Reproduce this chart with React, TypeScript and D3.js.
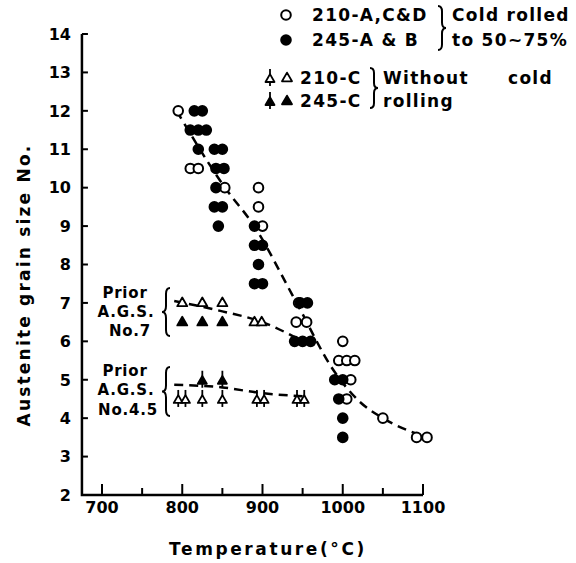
import React from "react";
import * as d3 from "d3";

// Cold rolled, 210-A,C&D (open circles): [temperature °C, grain size No.]
const coldOpen: [number, number][] = [
  [795, 12], [810, 10.5], [820, 10.5], [853, 10], [895, 10], [895, 9.5],
  [900, 9], [945, 7], [942, 6.5], [955, 6.5], [1000, 6], [995, 5.5],
  [1005, 5.5], [1015, 5.5], [1010, 5], [1005, 4.5], [1050, 4],
  [1092, 3.5], [1105, 3.5],
];
// Cold rolled, 245-A & B (filled circles)
const coldFilled: [number, number][] = [
  [815, 12], [825, 12], [810, 11.5], [820, 11.5], [830, 11.5], [820, 11],
  [840, 11], [850, 11], [842, 10.5], [852, 10.5], [842, 10], [840, 9.5],
  [850, 9.5], [845, 9], [890, 9], [890, 8.5], [900, 8.5], [895, 8],
  [890, 7.5], [900, 7.5], [947, 7], [956, 7], [940, 6], [950, 6], [960, 6],
  [990, 5], [1000, 5], [995, 4.5], [1000, 4], [1000, 3.5],
];
// Without cold rolling, prior A.G.S. No.7
const c210Plain: [number, number][] = [[800, 7], [825, 7], [850, 7], [890, 6.5], [899, 6.5]];
const c245Plain: [number, number][] = [[800, 6.5], [825, 6.5], [850, 6.5]];
// Without cold rolling, prior A.G.S. No.4.5
const c210Stem: [number, number][] = [
  [795, 4.5], [804, 4.5], [825, 4.5], [850, 4.5], [893, 4.5], [902, 4.5],
  [943, 4.5], [952, 4.5],
];
const c245Stem: [number, number][] = [[825, 5], [850, 5]];

// Trend lines
const coldTrend: [number, number][] = [
  [793, 12], [855, 9.95], [888, 9.05], [940, 7.1], [990, 5.2], [1020, 4.45],
  [1050, 4.0], [1098, 3.55],
];
const ags7Trend: [number, number][] = [[790, 7.05], [850, 6.78], [900, 6.5], [950, 6.0]];
const ags45Trend: [number, number][] = [[790, 4.87], [850, 4.8], [900, 4.65], [950, 4.57]];

const yTicks = [2, 3, 4, 5, 6, 7, 8, 9, 10, 11, 12, 13, 14];
const xTickLabels = [700, 800, 900, 1000, 1100];
const xTicksAll = [700, 750, 800, 850, 900, 950, 1000, 1050, 1100];

const W = 576;
const H = 563;
const FONT = "'DejaVu Sans', sans-serif";

const x = d3.scaleLinear().domain([700, 1100]).range([102, 423]);
const y = d3.scaleLinear().domain([2, 14]).range([495, 34]);

const lineGen = d3
  .line<[number, number]>()
  .x((d) => x(d[0]))
  .y((d) => y(d[1]))
  .curve(d3.curveMonotoneX);

function triPath(cx: number, cy: number, s: number) {
  const h = s * 0.87;
  return `M${cx},${cy - h * 0.62} L${cx + s / 2},${cy + h * 0.38} L${cx - s / 2},${cy + h * 0.38} Z`;
}

function Circle({ cx, cy, filled }: { cx: number; cy: number; filled: boolean }) {
  return <circle cx={cx} cy={cy} r={4.8} fill={filled ? "#000" : "#fff"} stroke="#000" strokeWidth={2} />;
}

function Tri({ cx, cy, filled }: { cx: number; cy: number; filled: boolean }) {
  return (
    <path d={triPath(cx, cy, 10)} fill={filled ? "#000" : "#fff"} stroke="#000" strokeWidth={1.8} strokeLinejoin="round" />
  );
}

function StemTri({ cx, cy, filled }: { cx: number; cy: number; filled: boolean }) {
  return (
    <g>
      <line x1={cx} x2={cx} y1={cy - 9} y2={cy + 8} stroke="#000" strokeWidth={1.8} />
      <path d={triPath(cx, cy + 1, 9)} fill={filled ? "#000" : "#fff"} stroke="#000" strokeWidth={1.8} strokeLinejoin="round" />
    </g>
  );
}

// Curly brace opening to the left ("}") or to the right ("{")
function brace(xEdge: number, y0: number, y1: number, w: number, dir: 1 | -1) {
  const ym = (y0 + y1) / 2;
  const h = y1 - y0;
  const xm = xEdge + (dir * w) / 2;
  const xt = xEdge + dir * w;
  const k = Math.min(h / 8, 6);
  return `M${xEdge},${y0} Q${xm},${y0} ${xm},${y0 + k} L${xm},${ym - k} Q${xm},${ym} ${xt},${ym} Q${xm},${ym} ${xm},${ym + k} L${xm},${y1 - k} Q${xm},${y1} ${xEdge},${y1}`;
}

export default function App() {
  const textStyle = { fontFamily: FONT, fontWeight: 700 as const, fill: "#000" };
  return (
    <svg width={W} height={H} style={{ position: "absolute", left: 0, top: 0, background: "#fff" }}>
      <rect width={W} height={H} fill="#fff" />

      {/* Axes */}
      <path d={`M${x(675)},${y(14)} V${y(2)} H${x(1100)}`} fill="none" stroke="#000" strokeWidth={2.5} />
      {yTicks.map((t) => (
        <g key={`yt${t}`}>
          <line x1={x(675)} x2={x(675) + 6} y1={y(t)} y2={y(t)} stroke="#000" strokeWidth={2} />
          <text x={71} y={y(t)} dy="0.36em" textAnchor="end" fontSize={16} {...textStyle}>
            {t}
          </text>
        </g>
      ))}
      {xTicksAll.map((t) => (
        <line key={`xt${t}`} x1={x(t)} x2={x(t)} y1={y(2)} y2={y(2) - (t % 100 === 0 ? 11 : 7)} stroke="#000" strokeWidth={2} />
      ))}
      {xTickLabels.map((t) => (
        <text key={`xl${t}`} x={x(t)} y={513} textAnchor="middle" fontSize={16} {...textStyle}>
          {t}
        </text>
      ))}
      <text x={268} y={555} textAnchor="middle" fontSize={17} letterSpacing={2.6} {...textStyle}>
        Temperature(°C)
      </text>
      <text transform="translate(30,285) rotate(-90)" textAnchor="middle" fontSize={17} letterSpacing={2.2} {...textStyle}>
        Austenite grain size No.
      </text>

      {/* Trend lines */}
      {[coldTrend, ags7Trend, ags45Trend].map((d, i) => (
        <path key={`tr${i}`} d={lineGen(d) || ""} fill="none" stroke="#000" strokeWidth={2.5} strokeDasharray="9 6" />
      ))}

      {/* Data */}
      {coldOpen.map((d, i) => <Circle key={`co${i}`} cx={x(d[0])} cy={y(d[1])} filled={false} />)}
      {coldFilled.map((d, i) => <Circle key={`cf${i}`} cx={x(d[0])} cy={y(d[1])} filled={true} />)}
      {c210Plain.map((d, i) => <Tri key={`tp${i}`} cx={x(d[0])} cy={y(d[1])} filled={false} />)}
      {c245Plain.map((d, i) => <Tri key={`tf${i}`} cx={x(d[0])} cy={y(d[1])} filled={true} />)}
      {c210Stem.map((d, i) => <StemTri key={`sp${i}`} cx={x(d[0])} cy={y(d[1])} filled={false} />)}
      {c245Stem.map((d, i) => <StemTri key={`sf${i}`} cx={x(d[0])} cy={y(d[1])} filled={true} />)}

      {/* Prior A.G.S. annotations */}
      <g fontSize={15} letterSpacing={0.8} {...textStyle} textAnchor="middle">
        <text x={125} y={298}>Prior</text>
        <text x={126} y={317}>A.G.S.</text>
        <text x={130} y={336}>No.7</text>
        <text x={125} y={376}>Prior</text>
        <text x={126} y={395}>A.G.S.</text>
        <text x={128} y={415}>No.4.5</text>
      </g>
      <path d={brace(170, 288, 336, 8, -1)} fill="none" stroke="#000" strokeWidth={2} />
      <path d={brace(170, 367, 416, 8, -1)} fill="none" stroke="#000" strokeWidth={2} />

      {/* Legend */}
      <Circle cx={286} cy={15} filled={false} />
      <Circle cx={286} cy={40} filled={true} />
      <g fontSize={17} letterSpacing={1.3} {...textStyle}>
        <text x={312} y={21}>210-A,C&amp;D</text>
        <text x={312} y={46}>245-A &amp; B</text>
        <text x={452} y={21}>Cold rolled</text>
        <text x={452} y={46}>to 50~75%</text>
        <text x={300} y={84}>210-C</text>
        <text x={300} y={107}>245-C</text>
        <text x={383} y={84}>Without</text>
        <text x={508} y={84}>cold</text>
        <text x={383} y={107}>rolling</text>
      </g>
      <path d={brace(438, 6, 50, 8, 1)} fill="none" stroke="#000" strokeWidth={2} />
      <path d={brace(370, 68, 108, 8, 1)} fill="none" stroke="#000" strokeWidth={2} />
      <StemTri cx={270} cy={78} filled={false} />
      <Tri cx={287} cy={78} filled={false} />
      <StemTri cx={270} cy={101} filled={true} />
      <Tri cx={287} cy={101} filled={true} />
    </svg>
  );
}
